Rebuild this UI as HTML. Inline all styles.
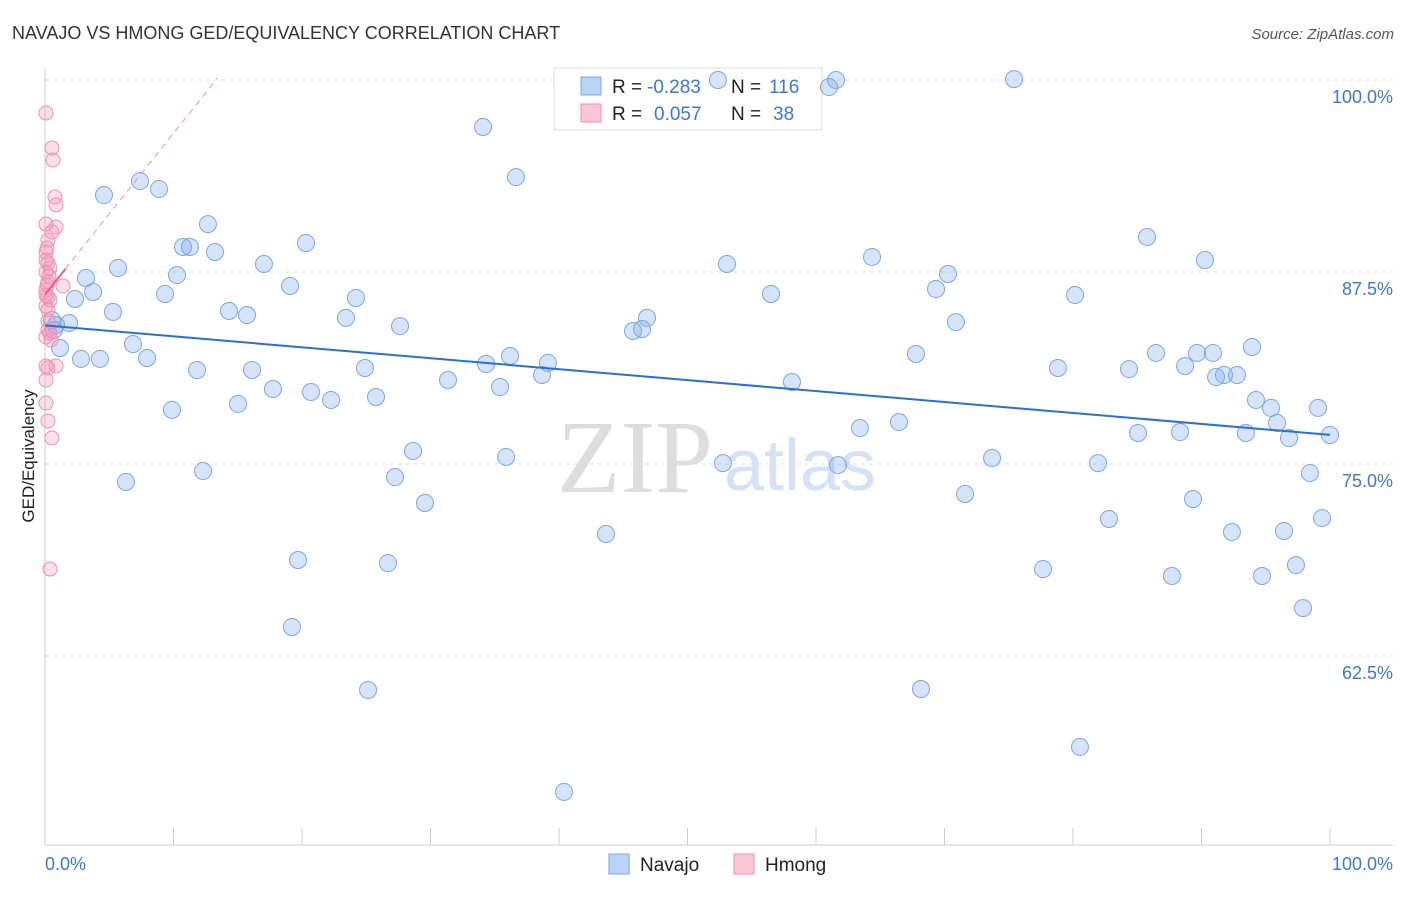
<!DOCTYPE html>
<html><head><meta charset="utf-8"><style>
body{margin:0;background:#fff;font-family:"Liberation Sans",sans-serif;}
svg text{font-family:"Liberation Sans",sans-serif;}
</style></head><body>
<svg id="chart" width="1406" height="892" xmlns="http://www.w3.org/2000/svg">
<text x="12" y="39" font-size="18" fill="#333">NAVAJO VS HMONG GED/EQUIVALENCY CORRELATION CHART</text>
<text x="1394" y="39" font-size="15" fill="#555" font-style="italic" text-anchor="end">Source: ZipAtlas.com</text>
<text x="635" y="492" font-size="104" fill="#ddd" text-anchor="middle" style="font-family:'Liberation Serif',serif">ZIP</text>
<text x="800" y="490" font-size="72" fill="#d4e2f5" text-anchor="middle">atlas</text>
<g id="grid"></g>
<line x1="45" y1="68" x2="45" y2="845" stroke="#ccc"/>
<line x1="45" y1="845" x2="1393" y2="845" stroke="#ccc"/>
<g id="xticks"></g>
<text transform="translate(34,456) rotate(-90)" font-size="17" fill="#222" text-anchor="middle">GED/Equivalency</text>
<text x="45" y="870" font-size="18" fill="#3a78d8">0.0%</text>
<text x="1393" y="870" font-size="18" fill="#3a78d8" text-anchor="end">100.0%</text>
<g>
<rect x="554" y="68" width="268" height="62" fill="#fff" stroke="#ddd"/>
<rect x="581" y="77" width="20" height="18" fill="#b9d3f5" stroke="#7aa6e6"/>
<rect x="581" y="104" width="20" height="18" fill="#f9c6d6" stroke="#f090b0"/>
<text x="612" y="93" font-size="19" fill="#222">R =</text>
<text x="647" y="93" font-size="19" fill="#3a78d8">-0.283</text>
<text x="731" y="93" font-size="19" fill="#222">N =</text>
<text x="769" y="93" font-size="19" fill="#3a78d8">116</text>
<text x="612" y="120" font-size="19" fill="#222">R =</text>
<text x="654" y="120" font-size="19" fill="#3a78d8">0.057</text>
<text x="731" y="120" font-size="19" fill="#222">N =</text>
<text x="773" y="120" font-size="19" fill="#3a78d8">38</text>
</g>
<g id="marks"></g>
<g>
<rect x="609" y="854" width="20" height="20" fill="#b9d3f5" stroke="#7aa6e6"/>
<text x="640" y="871" font-size="19" fill="#222">Navajo</text>
<rect x="734" y="854" width="20" height="20" fill="#f9c6d6" stroke="#f090b0"/>
<text x="765" y="871" font-size="19" fill="#222">Hmong</text>
</g>
</svg>
<script>
const yTicks=[100,87.5,75,62.5];
const yTickLabels=["100.0%","87.5%","75.0%","62.5%"];
const navajoPx=[[718,80],[829,87],[836,80],[1014,79],[483,127],[516,177],[104,195],[140,181],[159,189],[208,224],[183,247],[190,247],[215,252],[306,243],[264,264],[118,268],[86,278],[177,275],[93,292],[165,294],[290,286],[75,299],[113,312],[229,311],[247,315],[356,298],[346,318],[400,326],[52,320],[56,325],[69,323],[60,348],[133,344],[81,359],[100,359],[147,358],[197,370],[252,370],[365,368],[273,389],[311,392],[331,400],[376,397],[238,404],[172,410],[448,380],[486,364],[510,356],[500,387],[542,375],[548,363],[413,451],[395,477],[425,503],[506,457],[203,471],[126,482],[298,560],[388,563],[292,627],[368,690],[564,792],[606,534],[633,331],[642,329],[647,318],[723,463],[727,264],[771,294],[792,382],[838,465],[860,428],[872,257],[899,422],[916,354],[921,689],[936,289],[948,274],[956,322],[965,494],[992,458],[1043,569],[1058,368],[1075,295],[1080,747],[1098,463],[1109,519],[1129,369],[1138,433],[1147,237],[1156,353],[1172,576],[1180,432],[1185,366],[1193,499],[1197,353],[1205,260],[1213,353],[1216,377],[1224,375],[1232,532],[1237,375],[1246,433],[1252,347],[1256,400],[1262,576],[1271,408],[1277,423],[1284,531],[1289,438],[1296,565],[1303,608],[1310,473],[1318,408],[1322,518],[1330,435],[54,330]];
const hmongPx=[[46,113],[52,148],[53,160],[55,197],[56,205],[46,224],[56,227],[48,240],[46,252],[48,263],[50,268],[46,272],[48,282],[63,286],[46,290],[48,297],[46,306],[48,321],[50,333],[46,337],[56,366],[48,368],[46,380],[46,403],[48,421],[52,438],[50,569],[48,310],[46,260],[50,300],[47,285],[49,276],[46,295],[52,232],[47,248],[51,340],[46,366],[48,330]];
const navajoX=navajoPx.map(p=>+((p[0]-45)/12.85).toFixed(2));
const navajoY=navajoPx.map(p=>+(100-(p[1]-78)/15.36).toFixed(2));
const hmongX=hmongPx.map(p=>+((p[0]-45)/12.85).toFixed(2));
const hmongY=hmongPx.map(p=>+(100-(p[1]-78)/15.36).toFixed(2));
const hmongTrend=[85.9,1.05]; // intercept, slope as shown in reference

const NS="http://www.w3.org/2000/svg";
const xS=v=>45+v*12.85, yS=v=>78+(100-v)*15.36;
function mk(t,a,parent){const e=document.createElementNS(NS,t);for(const k in a)e.setAttribute(k,a[k]);parent.appendChild(e);return e;}
const grid=document.getElementById('grid');
yTicks.forEach((v,i)=>{
 const l=mk('line',{x1:45,x2:1393,y1:yS(v)+2,y2:yS(v)+2,stroke:'#ddd','stroke-dasharray':'4,4'},grid);
 
 
 const t=mk('text',{x:1393,y:yS(v)+25,'font-size':18,fill:'#3a78d8','text-anchor':'end'},grid);
 t.textContent=yTickLabels[i];
 
 
});
const xt=document.getElementById('xticks');
for(let i=1;i<=10;i++){
 const l=mk('line',{x1:45+128.5*i,x2:45+128.5*i,y1:828,y2:845,stroke:'#ccc'},xt);
 
 
}
const marks=document.getElementById('marks');
function fit(xs,ys){const n=xs.length;const mx=xs.reduce((a,b)=>a+b)/n,my=ys.reduce((a,b)=>a+b)/n;let sxy=0,sxx=0;for(let i=0;i<n;i++){sxy+=(xs[i]-mx)*(ys[i]-my);sxx+=(xs[i]-mx)**2;}const b=sxy/sxx;return [my-b*mx,b];}
navajoX.forEach((x,i)=>{
 const c=mk('circle',{cx:xS(x),cy:yS(navajoY[i]),r:8.5,fill:'rgba(120,165,235,0.3)',stroke:'#7aa6e6','stroke-width':1},marks);
 
 
});
hmongX.forEach((x,i)=>{
 const c=mk('circle',{cx:xS(x),cy:yS(hmongY[i]),r:7,fill:'rgba(245,150,180,0.3)',stroke:'#f090b0','stroke-width':1},marks);
 
 
});
const [na,nb]=fit(navajoX,navajoY);
const nl=mk('line',{x1:xS(0),y1:yS(na),x2:xS(100),y2:yS(na+nb*100),stroke:'#2a6fd6','stroke-width':2},marks);


const [ha,hb]=hmongTrend;
const xe=(100-ha)/hb;
const hl=mk('line',{x1:xS(0),y1:yS(ha),x2:xS(xe),y2:yS(100),stroke:'#f090b0','stroke-width':1,'stroke-dasharray':'6,5'},marks);


const hs=mk('line',{x1:xS(0),y1:yS(ha),x2:xS(1.6),y2:yS(ha+hb*1.6),stroke:'#e8608a','stroke-width':2},marks);


</script>
</body></html>
